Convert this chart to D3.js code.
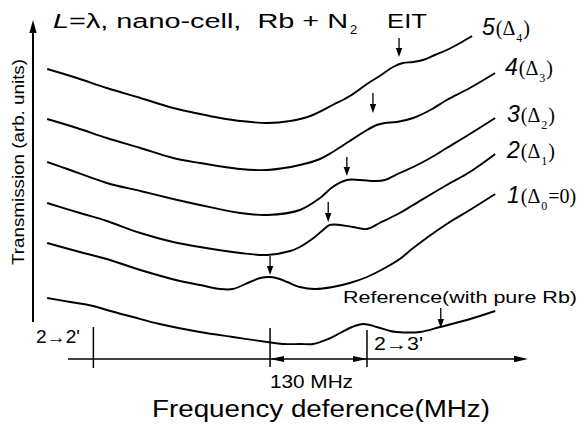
<!DOCTYPE html>
<html><head><meta charset="utf-8">
<script src="https://cdn.jsdelivr.net/npm/d3@7"></script>
<style>
html,body{margin:0;padding:0;background:#fff;}
svg text{white-space:pre;}
</style></head>
<body><svg id="c" width="586" height="426"></svg>
<script>
// Frequency (MHz, relative to 2->3') and transmission (arb. units)
const curve5 = [[-429,311],[-389,302],[-349,292],[-304,282],[-260,272],[-224,266],[-197,262],[-170,259],[-134,257],[-103,259],[-76,264],[-46,275],[-23,284],[0,296],[17,304],[35,313],[48,317],[62,318],[75,320],[91,325],[107,330],[125,337],[141,344]];
const curve4 = [[-429,261],[-389,252],[-349,242],[-304,232],[-260,222],[-224,217],[-170,211],[-134,210],[-90,215],[-63,221],[-46,228],[-23,239],[0,250],[13,255],[24,257],[40,258],[62,262],[85,270],[107,280],[138,292],[172,307]];
const curve3 = [[-429,218],[-402,211],[-349,197],[-304,189],[-260,181],[-224,175],[-170,167],[-134,165],[-90,170],[-63,182],[-46,193],[-27,200],[-9,200],[11,199],[24,200],[44,207],[62,213],[85,222],[107,232],[138,246],[172,262]];
const curve2 = [[-429,177],[-385,167],[-349,159],[-304,147],[-260,138],[-224,133],[-170,127],[-134,125],[-103,129],[-90,133],[-70,143],[-59,150],[-50,155],[-36,155],[-19,153],[0,151],[17,157],[44,167],[62,175],[107,195],[138,208],[172,226]];
const curve1 = [[-429,137],[-385,128],[-349,121],[-304,110],[-251,99],[-224,95],[-197,91],[-180,91],[-157,98],[-143,102],[-130,103],[-117,101],[-107,98],[-90,93],[-70,91],[-46,93],[-23,97],[0,103],[24,112],[44,121],[62,132],[107,156],[138,170],[172,186]];
const reference = [[-429,82],[-398,78],[-367,74],[-349,70],[-314,63],[-278,56],[-224,48],[-180,43],[-134,38],[-113,36],[-90,36],[-72,36],[-52,41],[-36,47],[-20,53],[-5,56],[13,53],[31,49],[40,48],[71,48],[98,53],[134,60],[172,69]];
// EIT / reference arrows: [freq, T start, T tip]
const arrows = [[43,342,323],[8,287,267],[-27,223,204],[-52,178,158],[-130,124,105],[99,72,52]];
// transition markers: [freq, T bottom, T top]
const markers = [[-367,12,53],[-130,13,52],[0,13,50]];
const markerLabels = ["2\u21922'", "2\u21923'"];
const spanLabel = "130 MHz";
const curveNums = ["5","4","3","2","1"];
const curveSubs = ["4","3","2","1","0"];

const svg = d3.select("#c");
const x = d3.scaleLinear().domain([-448,216]).range([33,528]);
const y = d3.scaleLinear().domain([0,350]).range([380,30]);
const axisT = 21;

const line = d3.line().x(d=>x(d[0])).y(d=>y(d[1])).curve(d3.curveCatmullRom.alpha(0.5));
[curve5,curve4,curve3,curve2,curve1,reference].forEach(c=>{
  svg.append("path").attr("d",line(c)).attr("fill","none").attr("stroke","#000").attr("stroke-width",1.9).attr("stroke-linejoin","round");
});

function tri(xt,yt,dir,len,hw){
  let p;
  if(dir==='down') p=[[xt,yt],[xt-hw,yt-len],[xt+hw,yt-len]];
  if(dir==='up') p=[[xt,yt],[xt-hw,yt+len],[xt+hw,yt+len]];
  if(dir==='left') p=[[xt,yt],[xt+len,yt-hw],[xt+len,yt+hw]];
  if(dir==='right') p=[[xt,yt],[xt-len,yt-hw],[xt-len,yt+hw]];
  svg.append("path").attr("d","M"+p.map(q=>q.join(",")).join("L")+"Z").attr("fill","#000");
}
arrows.forEach(a=>{
  svg.append("line").attr("x1",x(a[0])).attr("x2",x(a[0])).attr("y1",y(a[1])).attr("y2",y(a[2])-6).attr("stroke","#000").attr("stroke-width",1.3);
  tri(x(a[0]),y(a[2]),'down',9,3.2);
});

// Y axis
svg.append("line").attr("x1",x(-448)).attr("x2",x(-448)).attr("y1",y(58)).attr("y2",y(360)+8).attr("stroke","#000").attr("stroke-width",2);
tri(x(-448),y(360),'up',13,3.6);
// X axis
svg.append("line").attr("x1",x(-401)).attr("x2",x(216)-8).attr("y1",y(axisT)).attr("y2",y(axisT)).attr("stroke","#000").attr("stroke-width",1.6);
tri(x(216),y(axisT),'right',14,3.2);
tri(x(-130),y(axisT),'left',14,3);
tri(x(0),y(axisT),'right',14,3);
markers.forEach(m=>{
  svg.append("line").attr("x1",x(m[0])).attr("x2",x(m[0])).attr("y1",y(m[1])).attr("y2",y(m[2])).attr("stroke","#000").attr("stroke-width",1.5);
});

const sans = "'Liberation Sans', Arial, Helvetica, sans-serif";
const serif = "'Liberation Serif', 'Times New Roman', serif";
function txt(s,xx,yy,size,len){
  const t = svg.append("text").attr("x",xx).attr("y",yy).attr("font-family",sans).attr("font-size",size).attr("fill","#000").text(s);
  if(len) t.attr("textLength",len).attr("lengthAdjust","spacingAndGlyphs");
  return t;
}
// Title
const tt = svg.append("text").attr("x",53).attr("y",28).attr("font-family",sans).attr("font-size",19.5).attr("textLength",295).attr("lengthAdjust","spacingAndGlyphs");
tt.append("tspan").attr("font-style","italic").text("L");
tt.append("tspan").text("=\u03bb, nano-cell,  Rb + N");
txt("2",350,34,13);
txt("EIT",387,28,19.5,40);

txt(markerLabels[0],36,343,17.5,44);
txt(markerLabels[1],374,350,17.5,49);
txt(spanLabel,270,388,18,83);
txt("Frequency deference(MHz)",152,417,23,338);
txt("Reference(with pure Rb)",343,303,17,234);
svg.append("text").attr("transform","translate(24,265) rotate(-90)").attr("font-family",sans).attr("font-size",16)
  .attr("textLength",206).attr("lengthAdjust","spacingAndGlyphs").text("Transmission (arb. units)");

// curve labels
const labPos = [[482,35],[505,75],[507,122],[507,158],[507,203]];
curveNums.forEach((n,i)=>{
  const t = svg.append("text").attr("x",labPos[i][0]).attr("y",labPos[i][1]).attr("fill","#000");
  t.append("tspan").attr("font-family",sans).attr("font-style","italic").attr("font-size",23).text(n);
  t.append("tspan").attr("font-family",serif).attr("font-size",20).attr("dx",1).text("(\u0394");
  t.append("tspan").attr("font-family",serif).attr("font-size",12).attr("dy",7).attr("dx",1).text(curveSubs[i]);
  t.append("tspan").attr("font-family",serif).attr("font-size",20).attr("dy",-7).attr("dx",1).text(i===4?"=0)":")");
});
</script></body></html>
